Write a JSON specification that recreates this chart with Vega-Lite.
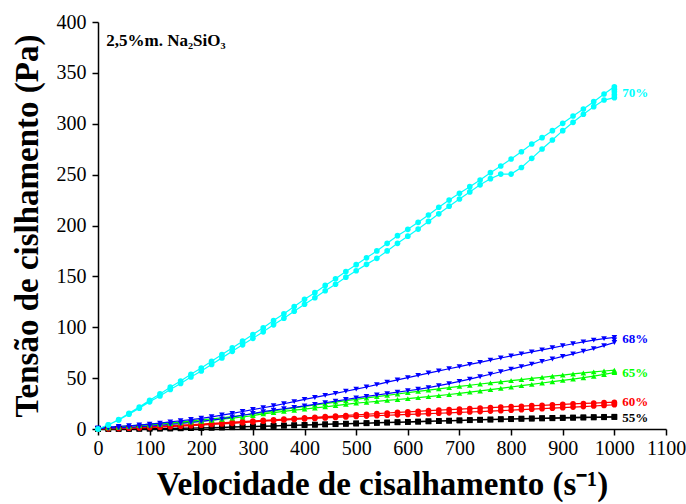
{
  "$schema": "https://vega.github.io/schema/vega-lite/v6.json",
  "width": 568,
  "height": 407,
  "autosize": {"type": "none"},
  "padding": {"left": 98, "top": 22, "right": 20, "bottom": 75},
  "background": "white",
  "config": {"view": {"stroke": null}},
  "datasets": {
    "curves": [
      {"s":"55%","x":0,"y":0},{"s":"55%","x":20,"y":0},{"s":"55%","x":40,"y":0.1},{"s":"55%","x":60,"y":0.1},{"s":"55%","x":80,"y":0.2},{"s":"55%","x":100,"y":0.3},{"s":"55%","x":120,"y":0.4},{"s":"55%","x":140,"y":0.5},{"s":"55%","x":160,"y":0.6},{"s":"55%","x":180,"y":0.8},{"s":"55%","x":200,"y":1},{"s":"55%","x":220,"y":1.2},{"s":"55%","x":240,"y":1.4},{"s":"55%","x":260,"y":1.7},{"s":"55%","x":280,"y":2},{"s":"55%","x":300,"y":2.3},{"s":"55%","x":320,"y":2.6},{"s":"55%","x":340,"y":2.9},{"s":"55%","x":360,"y":3.2},{"s":"55%","x":380,"y":3.5},{"s":"55%","x":400,"y":3.8},{"s":"55%","x":420,"y":4.1},{"s":"55%","x":440,"y":4.4},{"s":"55%","x":460,"y":4.7},{"s":"55%","x":480,"y":5},{"s":"55%","x":500,"y":5.3},{"s":"55%","x":520,"y":5.6},{"s":"55%","x":540,"y":5.9},{"s":"55%","x":560,"y":6.2},{"s":"55%","x":580,"y":6.5},{"s":"55%","x":600,"y":6.8},{"s":"55%","x":620,"y":7.1},{"s":"55%","x":640,"y":7.4},{"s":"55%","x":660,"y":7.7},{"s":"55%","x":680,"y":8},{"s":"55%","x":700,"y":8.3},{"s":"55%","x":720,"y":8.6},{"s":"55%","x":740,"y":8.9},{"s":"55%","x":760,"y":9.1},{"s":"55%","x":780,"y":9.4},{"s":"55%","x":800,"y":9.6},{"s":"55%","x":820,"y":9.9},{"s":"55%","x":840,"y":10.1},{"s":"55%","x":860,"y":10.3},{"s":"55%","x":880,"y":10.5},{"s":"55%","x":900,"y":10.7},{"s":"55%","x":920,"y":10.9},{"s":"55%","x":940,"y":11.1},{"s":"55%","x":960,"y":11.3},{"s":"55%","x":980,"y":11.5},{"s":"55%","x":1000,"y":11.7},
      {"s":"55%","x":1000,"y":12.1},{"s":"55%","x":980,"y":12},{"s":"55%","x":960,"y":11.8},{"s":"55%","x":940,"y":11.6},{"s":"55%","x":920,"y":11.4},{"s":"55%","x":900,"y":11.2},{"s":"55%","x":880,"y":11},{"s":"55%","x":860,"y":10.8},{"s":"55%","x":840,"y":10.5},{"s":"55%","x":820,"y":10.3},{"s":"55%","x":800,"y":10},{"s":"55%","x":780,"y":9.8},{"s":"55%","x":760,"y":9.5},{"s":"55%","x":740,"y":9.2},{"s":"55%","x":720,"y":8.9},{"s":"55%","x":700,"y":8.6},{"s":"55%","x":680,"y":8.3},{"s":"55%","x":660,"y":8},{"s":"55%","x":640,"y":7.7},{"s":"55%","x":620,"y":7.4},{"s":"55%","x":600,"y":7.1},{"s":"55%","x":580,"y":6.8},{"s":"55%","x":560,"y":6.5},{"s":"55%","x":540,"y":6.2},{"s":"55%","x":520,"y":5.9},{"s":"55%","x":500,"y":5.6},{"s":"55%","x":480,"y":5.3},{"s":"55%","x":460,"y":5},{"s":"55%","x":440,"y":4.7},{"s":"55%","x":420,"y":4.4},{"s":"55%","x":400,"y":4.1},{"s":"55%","x":380,"y":3.8},{"s":"55%","x":360,"y":3.5},{"s":"55%","x":340,"y":3.2},{"s":"55%","x":320,"y":2.9},{"s":"55%","x":300,"y":2.6},{"s":"55%","x":280,"y":2.3},{"s":"55%","x":260,"y":2},{"s":"55%","x":240,"y":1.7},{"s":"55%","x":220,"y":1.4},{"s":"55%","x":200,"y":1.2},{"s":"55%","x":180,"y":1},{"s":"55%","x":160,"y":0.8},{"s":"55%","x":140,"y":0.6},{"s":"55%","x":120,"y":0.5},{"s":"55%","x":100,"y":0.4},{"s":"55%","x":80,"y":0.3},{"s":"55%","x":60,"y":0.2},{"s":"55%","x":40,"y":0.1},{"s":"55%","x":20,"y":0.1},{"s":"55%","x":0,"y":0},

      {"s":"60%","x":0,"y":0},{"s":"60%","x":20,"y":0.2},{"s":"60%","x":40,"y":0.4},{"s":"60%","x":60,"y":0.7},{"s":"60%","x":80,"y":1},{"s":"60%","x":100,"y":1.4},{"s":"60%","x":120,"y":1.8},{"s":"60%","x":140,"y":2.2},{"s":"60%","x":160,"y":2.7},{"s":"60%","x":180,"y":3.2},{"s":"60%","x":200,"y":3.8},{"s":"60%","x":220,"y":4.4},{"s":"60%","x":240,"y":5},{"s":"60%","x":260,"y":5.6},{"s":"60%","x":280,"y":6.2},{"s":"60%","x":300,"y":6.9},{"s":"60%","x":320,"y":7.6},{"s":"60%","x":340,"y":8.2},{"s":"60%","x":360,"y":8.8},{"s":"60%","x":380,"y":9.4},{"s":"60%","x":400,"y":9.9},{"s":"60%","x":420,"y":10.4},{"s":"60%","x":440,"y":10.9},{"s":"60%","x":460,"y":11.4},{"s":"60%","x":480,"y":11.9},{"s":"60%","x":500,"y":12.3},{"s":"60%","x":520,"y":12.7},{"s":"60%","x":540,"y":13.1},{"s":"60%","x":560,"y":13.5},{"s":"60%","x":580,"y":13.9},{"s":"60%","x":600,"y":14.3},{"s":"60%","x":620,"y":14.7},{"s":"60%","x":640,"y":15.1},{"s":"60%","x":660,"y":15.5},{"s":"60%","x":680,"y":15.9},{"s":"60%","x":700,"y":16.3},{"s":"60%","x":720,"y":16.7},{"s":"60%","x":740,"y":17.1},{"s":"60%","x":760,"y":17.6},{"s":"60%","x":780,"y":18},{"s":"60%","x":800,"y":18.5},{"s":"60%","x":820,"y":19},{"s":"60%","x":840,"y":19.5},{"s":"60%","x":860,"y":20},{"s":"60%","x":880,"y":20.5},{"s":"60%","x":900,"y":21},{"s":"60%","x":920,"y":21.5},{"s":"60%","x":940,"y":22},{"s":"60%","x":960,"y":22.6},{"s":"60%","x":980,"y":23.2},{"s":"60%","x":1000,"y":23.8},{"s":"60%","x":1000,"y":25},
      {"s":"60%","x":1000,"y":26.3},{"s":"60%","x":980,"y":25.9},{"s":"60%","x":960,"y":25.5},{"s":"60%","x":940,"y":25.1},{"s":"60%","x":920,"y":24.7},{"s":"60%","x":900,"y":24.2},{"s":"60%","x":880,"y":23.8},{"s":"60%","x":860,"y":23.3},{"s":"60%","x":840,"y":22.9},{"s":"60%","x":820,"y":22.4},{"s":"60%","x":800,"y":22},{"s":"60%","x":780,"y":21.5},{"s":"60%","x":760,"y":21},{"s":"60%","x":740,"y":20.5},{"s":"60%","x":720,"y":20},{"s":"60%","x":700,"y":19.5},{"s":"60%","x":680,"y":19},{"s":"60%","x":660,"y":18.5},{"s":"60%","x":640,"y":18},{"s":"60%","x":620,"y":17.4},{"s":"60%","x":600,"y":16.9},{"s":"60%","x":580,"y":16.3},{"s":"60%","x":560,"y":15.7},{"s":"60%","x":540,"y":15.1},{"s":"60%","x":520,"y":14.5},{"s":"60%","x":500,"y":13.9},{"s":"60%","x":480,"y":13.3},{"s":"60%","x":460,"y":12.7},{"s":"60%","x":440,"y":12.1},{"s":"60%","x":420,"y":11.5},{"s":"60%","x":400,"y":10.9},{"s":"60%","x":380,"y":10.3},{"s":"60%","x":360,"y":9.7},{"s":"60%","x":340,"y":9.1},{"s":"60%","x":320,"y":8.5},{"s":"60%","x":300,"y":7.9},{"s":"60%","x":280,"y":7.3},{"s":"60%","x":260,"y":6.7},{"s":"60%","x":240,"y":6.1},{"s":"60%","x":220,"y":5.5},{"s":"60%","x":200,"y":4.9},{"s":"60%","x":180,"y":4.3},{"s":"60%","x":160,"y":3.8},{"s":"60%","x":140,"y":3.3},{"s":"60%","x":120,"y":2.8},{"s":"60%","x":100,"y":2.3},{"s":"60%","x":80,"y":1.8},{"s":"60%","x":60,"y":1.3},{"s":"60%","x":40,"y":0.9},{"s":"60%","x":20,"y":0.5},{"s":"60%","x":0,"y":0.2},

      {"s":"65%","x":0,"y":0.5},{"s":"65%","x":20,"y":1.2},{"s":"65%","x":40,"y":1.9},{"s":"65%","x":60,"y":2.6},{"s":"65%","x":80,"y":3.3},{"s":"65%","x":100,"y":4},{"s":"65%","x":120,"y":4.7},{"s":"65%","x":140,"y":5.4},{"s":"65%","x":160,"y":6.1},{"s":"65%","x":180,"y":6.8},{"s":"65%","x":200,"y":7.6},{"s":"65%","x":220,"y":8.6},{"s":"65%","x":240,"y":9.6},{"s":"65%","x":260,"y":10.7},{"s":"65%","x":280,"y":11.8},{"s":"65%","x":300,"y":13.2},{"s":"65%","x":320,"y":14.9},{"s":"65%","x":340,"y":16.1},{"s":"65%","x":360,"y":17.3},{"s":"65%","x":380,"y":18.5},{"s":"65%","x":400,"y":19.6},{"s":"65%","x":420,"y":20.7},{"s":"65%","x":440,"y":21.8},{"s":"65%","x":460,"y":23},{"s":"65%","x":480,"y":24.2},{"s":"65%","x":500,"y":25.4},{"s":"65%","x":520,"y":26.3},{"s":"65%","x":540,"y":27.2},{"s":"65%","x":560,"y":28.1},{"s":"65%","x":580,"y":29},{"s":"65%","x":600,"y":29.9},{"s":"65%","x":620,"y":30.8},{"s":"65%","x":640,"y":31.8},{"s":"65%","x":660,"y":32.8},{"s":"65%","x":680,"y":33.9},{"s":"65%","x":700,"y":35},{"s":"65%","x":720,"y":36.2},{"s":"65%","x":740,"y":37.4},{"s":"65%","x":760,"y":38.7},{"s":"65%","x":780,"y":40},{"s":"65%","x":800,"y":41.3},{"s":"65%","x":820,"y":42.6},{"s":"65%","x":840,"y":43.9},{"s":"65%","x":860,"y":45.2},{"s":"65%","x":880,"y":46.5},{"s":"65%","x":900,"y":47.8},{"s":"65%","x":920,"y":49.1},{"s":"65%","x":940,"y":50.4},{"s":"65%","x":960,"y":51.9},{"s":"65%","x":980,"y":53.6},{"s":"65%","x":1000,"y":55.5},{"s":"65%","x":1000,"y":56.5},
      {"s":"65%","x":1000,"y":57.8},{"s":"65%","x":980,"y":57},{"s":"65%","x":960,"y":56.1},{"s":"65%","x":940,"y":55.1},{"s":"65%","x":920,"y":54.1},{"s":"65%","x":900,"y":53},{"s":"65%","x":880,"y":51.9},{"s":"65%","x":860,"y":50.8},{"s":"65%","x":840,"y":49.7},{"s":"65%","x":820,"y":48.6},{"s":"65%","x":800,"y":47.5},{"s":"65%","x":780,"y":46.4},{"s":"65%","x":760,"y":45.3},{"s":"65%","x":740,"y":44.2},{"s":"65%","x":720,"y":43},{"s":"65%","x":700,"y":41.9},{"s":"65%","x":680,"y":40.7},{"s":"65%","x":660,"y":39.5},{"s":"65%","x":640,"y":38.3},{"s":"65%","x":620,"y":37},{"s":"65%","x":600,"y":35.7},{"s":"65%","x":580,"y":34.4},{"s":"65%","x":560,"y":33.1},{"s":"65%","x":540,"y":31.8},{"s":"65%","x":520,"y":30.5},{"s":"65%","x":500,"y":29.2},{"s":"65%","x":480,"y":27.8},{"s":"65%","x":460,"y":26.4},{"s":"65%","x":440,"y":25},{"s":"65%","x":420,"y":23.6},{"s":"65%","x":400,"y":22.2},{"s":"65%","x":380,"y":20.8},{"s":"65%","x":360,"y":19.3},{"s":"65%","x":340,"y":17.8},{"s":"65%","x":320,"y":16.3},{"s":"65%","x":300,"y":14.9},{"s":"65%","x":280,"y":13.5},{"s":"65%","x":260,"y":12.2},{"s":"65%","x":240,"y":11},{"s":"65%","x":220,"y":9.9},{"s":"65%","x":200,"y":8.9},{"s":"65%","x":180,"y":8},{"s":"65%","x":160,"y":7.1},{"s":"65%","x":140,"y":6.3},{"s":"65%","x":120,"y":5.5},{"s":"65%","x":100,"y":4.7},{"s":"65%","x":80,"y":3.8},{"s":"65%","x":60,"y":3},{"s":"65%","x":40,"y":2.2},{"s":"65%","x":20,"y":1.4},{"s":"65%","x":0,"y":0.6},

      {"s":"68%","x":0,"y":0.5},{"s":"68%","x":20,"y":0.8},{"s":"68%","x":40,"y":1.2},{"s":"68%","x":60,"y":1.6},{"s":"68%","x":80,"y":2.2},{"s":"68%","x":100,"y":2.8},{"s":"68%","x":120,"y":3.6},{"s":"68%","x":140,"y":4.5},{"s":"68%","x":160,"y":5.4},{"s":"68%","x":180,"y":6.4},{"s":"68%","x":200,"y":7.5},{"s":"68%","x":220,"y":8.7},{"s":"68%","x":240,"y":10},{"s":"68%","x":260,"y":11.8},{"s":"68%","x":280,"y":13.5},{"s":"68%","x":300,"y":15.2},{"s":"68%","x":320,"y":17},{"s":"68%","x":340,"y":18.5},{"s":"68%","x":360,"y":19.9},{"s":"68%","x":380,"y":21.3},{"s":"68%","x":400,"y":22.7},{"s":"68%","x":420,"y":24.2},{"s":"68%","x":440,"y":25.8},{"s":"68%","x":460,"y":27.4},{"s":"68%","x":480,"y":29},{"s":"68%","x":500,"y":30.6},{"s":"68%","x":520,"y":32},{"s":"68%","x":540,"y":33.4},{"s":"68%","x":560,"y":34.8},{"s":"68%","x":580,"y":36.2},{"s":"68%","x":600,"y":37.6},{"s":"68%","x":620,"y":39},{"s":"68%","x":640,"y":40.7},{"s":"68%","x":660,"y":42.6},{"s":"68%","x":680,"y":44.6},{"s":"68%","x":700,"y":46.8},{"s":"68%","x":720,"y":49},{"s":"68%","x":740,"y":51.4},{"s":"68%","x":760,"y":53.8},{"s":"68%","x":780,"y":56.3},{"s":"68%","x":800,"y":58.8},{"s":"68%","x":820,"y":61.3},{"s":"68%","x":840,"y":63.8},{"s":"68%","x":860,"y":66.3},{"s":"68%","x":880,"y":68.8},{"s":"68%","x":900,"y":71.3},{"s":"68%","x":920,"y":73.8},{"s":"68%","x":940,"y":76.4},{"s":"68%","x":960,"y":79},{"s":"68%","x":980,"y":81.9},{"s":"68%","x":1000,"y":85},{"s":"68%","x":1000,"y":87.5},
      {"s":"68%","x":1000,"y":90},{"s":"68%","x":980,"y":88.8},{"s":"68%","x":960,"y":87.3},{"s":"68%","x":940,"y":85.6},{"s":"68%","x":920,"y":83.8},{"s":"68%","x":900,"y":81.8},{"s":"68%","x":880,"y":79.8},{"s":"68%","x":860,"y":77.8},{"s":"68%","x":840,"y":75.8},{"s":"68%","x":820,"y":73.8},{"s":"68%","x":800,"y":71.8},{"s":"68%","x":780,"y":69.8},{"s":"68%","x":760,"y":67.7},{"s":"68%","x":740,"y":65.5},{"s":"68%","x":720,"y":63.5},{"s":"68%","x":700,"y":61.3},{"s":"68%","x":680,"y":59.2},{"s":"68%","x":660,"y":57.1},{"s":"68%","x":640,"y":55},{"s":"68%","x":620,"y":52.7},{"s":"68%","x":600,"y":50.5},{"s":"68%","x":580,"y":48.2},{"s":"68%","x":560,"y":46},{"s":"68%","x":540,"y":43.6},{"s":"68%","x":520,"y":41.3},{"s":"68%","x":500,"y":39.2},{"s":"68%","x":480,"y":37.1},{"s":"68%","x":460,"y":35},{"s":"68%","x":440,"y":33},{"s":"68%","x":420,"y":31},{"s":"68%","x":400,"y":29.1},{"s":"68%","x":380,"y":26.9},{"s":"68%","x":360,"y":24.8},{"s":"68%","x":340,"y":22.8},{"s":"68%","x":320,"y":20.9},{"s":"68%","x":300,"y":19.1},{"s":"68%","x":280,"y":17.2},{"s":"68%","x":260,"y":15.4},{"s":"68%","x":240,"y":13.7},{"s":"68%","x":220,"y":12},{"s":"68%","x":200,"y":10.5},{"s":"68%","x":180,"y":9.3},{"s":"68%","x":160,"y":8.1},{"s":"68%","x":140,"y":7},{"s":"68%","x":120,"y":5.8},{"s":"68%","x":100,"y":4.8},{"s":"68%","x":80,"y":3.9},{"s":"68%","x":60,"y":3.2},{"s":"68%","x":40,"y":2.5},{"s":"68%","x":20,"y":1.8},{"s":"68%","x":0,"y":1},

      {"s":"70%","x":0,"y":0},{"s":"70%","x":20,"y":4},{"s":"70%","x":40,"y":8.8},{"s":"70%","x":60,"y":14.6},{"s":"70%","x":80,"y":20.4},{"s":"70%","x":100,"y":26.7},{"s":"70%","x":120,"y":32.5},{"s":"70%","x":140,"y":38.9},{"s":"70%","x":160,"y":44.8},{"s":"70%","x":180,"y":51.2},{"s":"70%","x":200,"y":57.1},{"s":"70%","x":220,"y":63.5},{"s":"70%","x":240,"y":69.9},{"s":"70%","x":260,"y":76.3},{"s":"70%","x":280,"y":82.7},{"s":"70%","x":300,"y":89.1},{"s":"70%","x":320,"y":95.5},{"s":"70%","x":340,"y":102.4},{"s":"70%","x":360,"y":108.8},{"s":"70%","x":380,"y":115.7},{"s":"70%","x":400,"y":122.6},{"s":"70%","x":420,"y":129},{"s":"70%","x":440,"y":135.9},{"s":"70%","x":460,"y":142.3},{"s":"70%","x":480,"y":149.2},{"s":"70%","x":500,"y":155.5},{"s":"70%","x":520,"y":161.8},{"s":"70%","x":540,"y":167.7},{"s":"70%","x":560,"y":175},{"s":"70%","x":580,"y":182.5},{"s":"70%","x":600,"y":189.5},{"s":"70%","x":620,"y":196.5},{"s":"70%","x":640,"y":204},{"s":"70%","x":660,"y":211.5},{"s":"70%","x":680,"y":219},{"s":"70%","x":700,"y":226},{"s":"70%","x":720,"y":233},{"s":"70%","x":740,"y":240},{"s":"70%","x":760,"y":246},{"s":"70%","x":780,"y":250.5},{"s":"70%","x":800,"y":250.5},{"s":"70%","x":820,"y":257},{"s":"70%","x":840,"y":266},{"s":"70%","x":860,"y":275.2},{"s":"70%","x":880,"y":284},{"s":"70%","x":900,"y":293.2},{"s":"70%","x":920,"y":301.4},{"s":"70%","x":940,"y":309.3},{"s":"70%","x":960,"y":316.8},{"s":"70%","x":980,"y":323.3},{"s":"70%","x":1000,"y":325.6},{"s":"70%","x":1000,"y":328.5},{"s":"70%","x":1000,"y":331.5},{"s":"70%","x":1000,"y":334},
      {"s":"70%","x":1000,"y":336.4},{"s":"70%","x":980,"y":329.2},{"s":"70%","x":960,"y":321.7},{"s":"70%","x":940,"y":314.5},{"s":"70%","x":920,"y":307.6},{"s":"70%","x":900,"y":300.4},{"s":"70%","x":880,"y":293.2},{"s":"70%","x":860,"y":286.3},{"s":"70%","x":840,"y":280.1},{"s":"70%","x":820,"y":272.5},{"s":"70%","x":800,"y":265.4},{"s":"70%","x":780,"y":258.5},{"s":"70%","x":760,"y":251.9},{"s":"70%","x":740,"y":244.7},{"s":"70%","x":720,"y":238.2},{"s":"70%","x":700,"y":231.6},{"s":"70%","x":680,"y":225},{"s":"70%","x":660,"y":217.9},{"s":"70%","x":640,"y":210.3},{"s":"70%","x":620,"y":203.1},{"s":"70%","x":600,"y":196.2},{"s":"70%","x":580,"y":190},{"s":"70%","x":560,"y":182.5},{"s":"70%","x":540,"y":175},{"s":"70%","x":520,"y":168.2},{"s":"70%","x":500,"y":161.5},{"s":"70%","x":480,"y":154.8},{"s":"70%","x":460,"y":147.7},{"s":"70%","x":440,"y":141.1},{"s":"70%","x":420,"y":134},{"s":"70%","x":400,"y":127.4},{"s":"70%","x":380,"y":120.3},{"s":"70%","x":360,"y":113.2},{"s":"70%","x":340,"y":106.6},{"s":"70%","x":320,"y":99.5},{"s":"70%","x":300,"y":92.9},{"s":"70%","x":280,"y":86.3},{"s":"70%","x":260,"y":79.7},{"s":"70%","x":240,"y":73.1},{"s":"70%","x":220,"y":66.5},{"s":"70%","x":200,"y":59.9},{"s":"70%","x":180,"y":53.8},{"s":"70%","x":160,"y":47.2},{"s":"70%","x":140,"y":41.1},{"s":"70%","x":120,"y":34.5},{"s":"70%","x":100,"y":28.3},{"s":"70%","x":80,"y":21.6},{"s":"70%","x":60,"y":15.4},{"s":"70%","x":40,"y":9.2},{"s":"70%","x":20,"y":4},{"s":"70%","x":0,"y":0}
    ],
    "labels": [
      {"s":"55%","x":1000,"y":10.5},
      {"s":"60%","x":1000,"y":26.5},
      {"s":"65%","x":1000,"y":55.5},
      {"s":"68%","x":1000,"y":88.5},
      {"s":"70%","x":1000,"y":330}
    ],
    "note": [
      {"t":"2,5%m. Na₂SiO₃","x":16,"y":381}
    ]
  },
  "layer": [
    {
      "data": {"name": "curves"},
      "mark": {"type": "line", "strokeWidth": 1.2, "clip": false},
      "encoding": {
        "x": {
          "field": "x", "type": "quantitative",
          "scale": {"domain": [0, 1100], "nice": false, "zero": false},
          "axis": {
            "values": [0,100,200,300,400,500,600,700,800,900,1000,1100],
            "format": "d",
            "grid": false,
            "title": "Velocidade de cisalhamento (s⁻¹)",
            "titleFont": "Liberation Serif", "titleFontSize": 33, "titleFontWeight": "bold", "titleColor": "black",
            "titlePadding": 10,
            "labelFont": "Liberation Serif", "labelFontSize": 20, "labelColor": "black", "labelPadding": 3,
            "labelFlush": false, "labelOverlap": false,
            "domainColor": "black", "domainWidth": 1.5,
            "tickColor": "black", "tickWidth": 1.5, "tickSize": 6
          }
        },
        "y": {
          "field": "y", "type": "quantitative",
          "scale": {"domain": [0, 400], "nice": false},
          "axis": {
            "values": [0,50,100,150,200,250,300,350,400],
            "format": "d",
            "grid": false,
            "title": "Tensão de cislhamento (Pa)",
            "titleFont": "Liberation Serif", "titleFontSize": 33, "titleFontWeight": "bold", "titleColor": "black",
            "titlePadding": 12,
            "labelFont": "Liberation Serif", "labelFontSize": 20, "labelColor": "black", "labelPadding": 6,
            "labelFlush": false, "labelOverlap": false,
            "domainColor": "black", "domainWidth": 1.5,
            "tickColor": "black", "tickWidth": 1.5, "tickSize": 6
          }
        },
        "color": {
          "field": "s", "type": "nominal",
          "scale": {"domain": ["55%","60%","65%","68%","70%"], "range": ["#000000","#ff0000","#00ff00","#0000ff","#00ffff"]},
          "legend": null
        },
        "order": {"value": null}
      }
    },
    {
      "data": {"name": "curves"},
      "mark": {"type": "point", "filled": true, "opacity": 1, "size": 32, "clip": false},
      "encoding": {
        "x": {"field": "x", "type": "quantitative"},
        "y": {"field": "y", "type": "quantitative"},
        "color": {"field": "s", "type": "nominal", "legend": null},
        "shape": {
          "field": "s", "type": "nominal",
          "scale": {"domain": ["55%","60%","65%","68%","70%"], "range": ["square","circle","triangle-up","triangle-down","circle"]},
          "legend": null
        }
      }
    },
    {
      "data": {"name": "labels"},
      "mark": {"type": "text", "align": "left", "baseline": "middle", "dx": 8, "font": "Liberation Serif", "fontWeight": "bold", "fontSize": 13},
      "encoding": {
        "x": {"field": "x", "type": "quantitative"},
        "y": {"field": "y", "type": "quantitative"},
        "text": {"field": "s", "type": "nominal"},
        "color": {"field": "s", "type": "nominal", "legend": null}
      }
    },
    {
      "data": {"name": "note"},
      "mark": {"type": "text", "align": "left", "baseline": "middle", "font": "Liberation Serif", "fontWeight": "bold", "fontSize": 17, "color": "black"},
      "encoding": {
        "x": {"field": "x", "type": "quantitative"},
        "y": {"field": "y", "type": "quantitative"},
        "text": {"field": "t", "type": "nominal"}
      }
    }
  ]
}
